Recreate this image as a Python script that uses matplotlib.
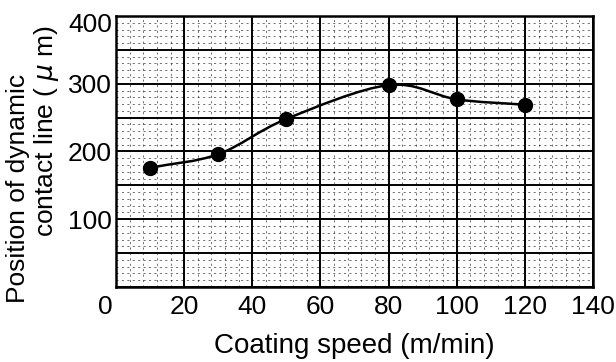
import numpy as np
import matplotlib
matplotlib.use('Agg')
import matplotlib.pyplot as plt
from matplotlib.path import Path
from matplotlib.patches import PathPatch
from matplotlib.ticker import MultipleLocator
import matplotlib.transforms as mtransforms

plt.rcParams['font.family'] = ['Liberation Sans', 'DejaVu Sans']

# data
coating_speed = [10, 30, 50, 80, 100, 120]          # m/min
contact_line = [176, 196, 248, 298, 277, 269]       # um
x_ticks = [0, 20, 40, 60, 80, 100, 120, 140]
y_ticks = [100, 200, 300, 400]

fig = plt.figure(figsize=(6.16, 3.62), dpi=100)
ax = fig.add_axes([0.1883, 0.2072, 0.7744, 0.7486])

ax.set_xlim(0, 140)
ax.set_ylim(0, 400)

# graph paper style grid
ax.xaxis.set_minor_locator(MultipleLocator(4))
ax.yaxis.set_minor_locator(MultipleLocator(10))
ax.grid(which='major', color='black', linewidth=1.4)
ax.grid(which='minor', color='black', linewidth=0.6, linestyle=(0, (2.5, 4)), alpha=0.65)
ax.set_axisbelow(True)

ax.set_xticks(x_ticks)
ax.set_xticklabels([str(v) for v in x_ticks])
ax.set_yticks([0, 50, 100, 150, 200, 250, 300, 350, 400])
ax.set_yticklabels(['', '', '100', '', '200', '', '300', '', '400'])
ax.tick_params(which='both', length=0)
ax.tick_params(axis='x', labelsize=19, pad=6)
ax.tick_params(axis='y', labelsize=19, pad=3)

# nudge the "0" on x and "400" on y like in the print
lab0 = ax.get_xticklabels()[0]
lab0.set_transform(lab0.get_transform() + mtransforms.ScaledTranslation(-11 / 100, 0, fig.dpi_scale_trans))
lab400 = ax.get_yticklabels()[-1]
lab400.set_transform(lab400.get_transform() + mtransforms.ScaledTranslation(0, -6 / 100, fig.dpi_scale_trans))

for s in ax.spines.values():
    s.set_linewidth(1.8)
    s.set_color('black')

# smooth curve through the points (catmull-rom as bezier segments)
xs = np.array(coating_speed, dtype=float)
ys = np.array(contact_line, dtype=float)
px = np.concatenate([[2 * xs[0] - xs[1]], xs, [2 * xs[-1] - xs[-2]]])
py = np.concatenate([[2 * ys[0] - ys[1]], ys, [2 * ys[-1] - ys[-2]]])
verts = [(xs[0], ys[0])]
codes = [Path.MOVETO]
for i in range(1, len(px) - 2):
    c1 = (px[i] + (px[i + 1] - px[i - 1]) / 6, py[i] + (py[i + 1] - py[i - 1]) / 6)
    c2 = (px[i + 1] - (px[i + 2] - px[i]) / 6, py[i + 1] - (py[i + 2] - py[i]) / 6)
    verts += [c1, c2, (px[i + 1], py[i + 1])]
    codes += [Path.CURVE4, Path.CURVE4, Path.CURVE4]
ax.add_patch(PathPatch(Path(verts, codes), facecolor='none', edgecolor='black', linewidth=1.8, zorder=3))

ax.plot(coating_speed, contact_line, 'o', color='black', markersize=10, zorder=4)

fig.text(0.575, 9 / 362, 'Coating speed (m/min)', fontsize=20, ha='center', va='baseline')
# the two lines of the y title sit at different heights in the print
fig.text(25 / 616, (362 - 303) / 362, 'Position of dynamic', fontsize=19,
         rotation=90, rotation_mode='anchor', ha='left', va='baseline')
fig.text(53 / 616, (362 - 237) / 362, 'contact line ( $\\mu$ m)', fontsize=19,
         rotation=90, rotation_mode='anchor', ha='left', va='baseline')

fig.savefig('out.png', dpi=100)
